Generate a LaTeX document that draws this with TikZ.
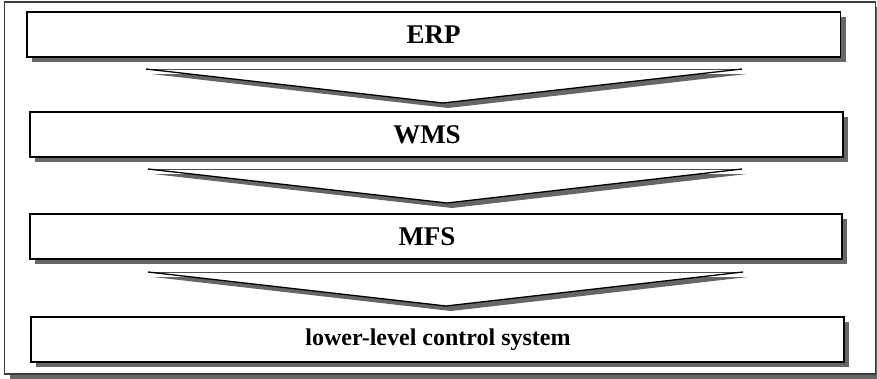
\documentclass[tikz,border=0pt]{standalone}
\usepackage{fontspec}
\setmainfont{Liberation Serif}
\usetikzlibrary{shadows}
\definecolor{shadowgray}{HTML}{666666}
\definecolor{framegray}{HTML}{3A3A3A}
\begin{document}
\begin{tikzpicture}[x=1pt,y=-1pt,
  sh/.style={drop shadow={shadow xshift=5pt,shadow yshift=-5pt,fill=shadowgray,opacity=1}},
  layerbox/.style={draw=black,line width=1.1pt,fill=white,rectangle,inner sep=0pt,minimum height=45pt,sh},
  bigtxt/.style={font=\bfseries\fontsize{27}{30}\selectfont,inner sep=0pt},
  smalltxt/.style={font=\bfseries\fontsize{24}{28}\selectfont,inner sep=0pt},
  chevside/.style={draw=black,line width=1.3pt,line join=miter},
  chevtop/.style={draw=gray!60!black,line width=0.8pt}]
\useasboundingbox (0,0) rectangle (877,378);
% outer frame
\node[draw=framegray,line width=1.1pt,fill=white,rectangle,inner sep=0pt,
      minimum width=871pt,minimum height=372pt,sh] (frame) at (440,188) {};
% layer boxes
\node[layerbox,minimum width=813.5pt] (erp) at (433.75,34.5) {};
\node[layerbox,minimum width=813pt] (wms) at (436.5,134.5) {};
\node[layerbox,minimum width=812pt] (mfs) at (436,236.5) {};
\node[layerbox,minimum width=813pt] (llc) at (437.5,339.5) {};
% labels
\node[bigtxt] (erpt) at (433.5,34.5) {ERP};
\node[bigtxt] (wmst) at (427,134.5) {WMS};
\node[bigtxt] (mfst) at (427,236.5) {MFS};
\node[smalltxt] (llct) at (438,339.5) {lower-level control system};
% chevron corner points
\coordinate (ca-l) at (146,69);  \coordinate (ca-r) at (742,69);  \coordinate (ca-t) at (443,103);
\coordinate (cb-l) at (148,169); \coordinate (cb-r) at (742,169); \coordinate (cb-t) at (447,203);
\coordinate (cc-l) at (148,272); \coordinate (cc-r) at (743,272); \coordinate (cc-t) at (446,306);
\foreach \cn in {ca,cb,cc}{
  \fill[shadowgray] ([shift={(5,5)}]\cn-l) -- ([shift={(5,5)}]\cn-r) -- ([shift={(5,5)}]\cn-t) -- cycle;
  \fill[white] (\cn-l) -- (\cn-r) -- (\cn-t) -- cycle;
  \path[chevtop] (\cn-l) -- (\cn-r);
  \path[chevside] (\cn-r) -- (\cn-t) -- (\cn-l);
}
\end{tikzpicture}
\end{document}
